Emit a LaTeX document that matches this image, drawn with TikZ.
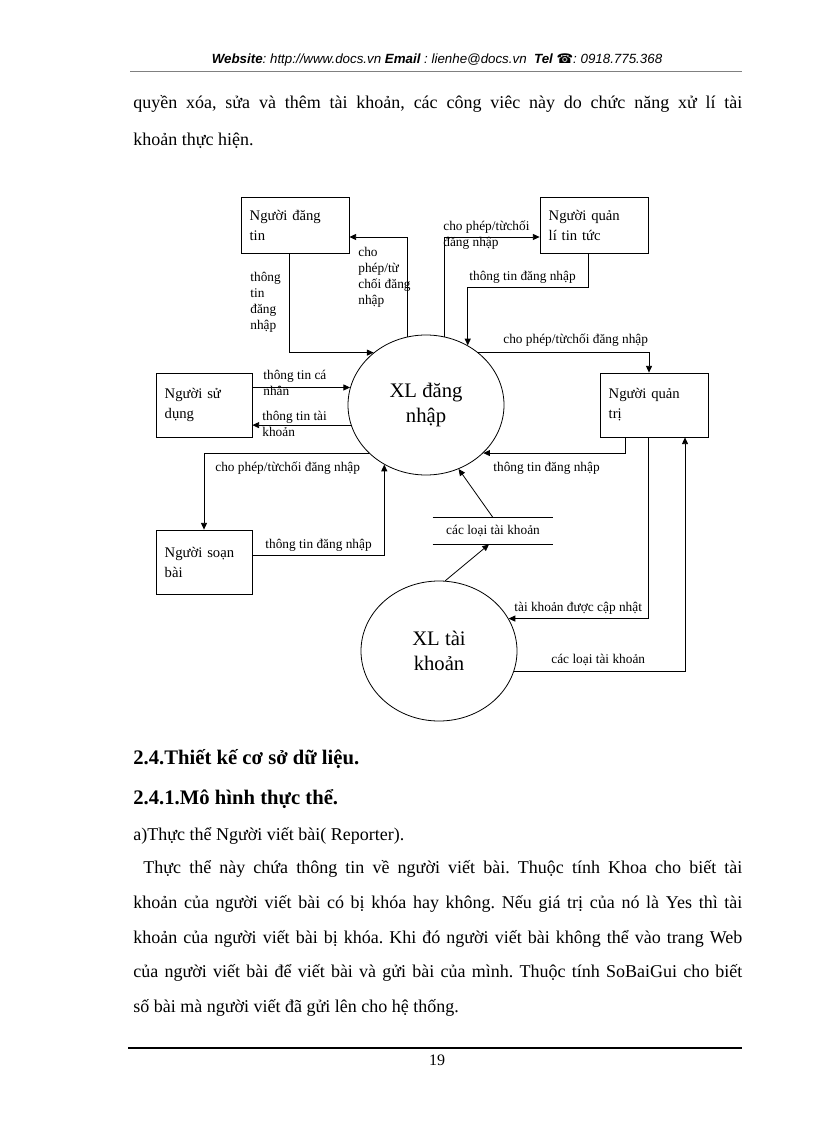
\documentclass[tikz,border=0pt]{standalone}
\usepackage{fontspec}
\setmainfont{Liberation Serif}
\newfontfamily\hdrfont{Liberation Sans}
\newfontfamily\symfont{DejaVu Sans}
\usetikzlibrary{
    arrows.meta,
    calc,
    shapes.geometric
}
\frenchspacing
\newcommand{\fullline}[2]{\makebox[#1][s]{#2}}

\begin{document}
\begin{tikzpicture}[x=0.75pt,y=-0.75pt,line width=0.6pt,
    arr/.style={-{Triangle[length=5pt,width=4.5pt]}},
    box/.style={draw,minimum width=81pt,minimum height=42pt,inner xsep=6.5pt,
        text width=68pt,align=left,font=\fontsize{11}{15}\selectfont},
    sbox/.style={box,minimum width=72pt,minimum height=48pt,text width=59pt},
    proc/.style={draw,ellipse,minimum width=117pt,minimum height=105pt,inner sep=0pt,
        align=center,font=\fontsize{15.5}{19}\selectfont},
    lbl/.style={inner sep=0pt,anchor=west,font=\fontsize{10}{12}\selectfont},
    mlbl/.style={lbl,anchor=north west,align=left},
    body/.style={inner sep=0pt,anchor=base west,font=\fontsize{13.5}{16}\selectfont},
    head/.style={body,font=\fontsize{15.5}{18}\selectfont\bfseries}]
\useasboundingbox (0,0) rectangle (816,1123);

% page header
\node[inner sep=0pt,font=\hdrfont\itshape\fontsize{10}{12}\selectfont] (hdr) at (437,60)
    {\textbf{Website}: http://www.docs.vn \textbf{Email} : lienhe@docs.vn \ \textbf{Tel} {\symfont ☎}: 0918.775.368};
\draw[gray,line width=0.5pt] (130,71) -- (742,71);

\node[body] (p1) at (133,109) {\fullline{456.75pt}{quyền xóa, sửa và thêm tài khoản, các công viêc này do chức năng xử lí tài}};
\node[body] (p2) at (133,146) {khoản thực hiện.};

% diagram
\node[box] (dangtin) at (295,225) {Người đăng\\tin};
\node[box] (quanlitin) at (594,225) {Người quản\\lí tin tức};
\node[proc] (xldn) at (426,405) {XL đăng\\nhập};
\node[sbox] (sudung) at (204,405) {Người sử\\dụng};
\node[box,minimum height=48pt] (quantri) at (654,405) {Người quản\\trị};
\node[sbox] (soanbai) at (204,562) {Người soạn\\bài};
\node[minimum width=90pt,minimum height=19.5pt,inner sep=0pt,font=\fontsize{10}{12}\selectfont] (kho) at (493,531) {các loại tài khoản};
\draw (kho.north west) -- (kho.north east);
\draw (kho.south west) -- (kho.south east);
\node[proc] (xltk) at (439,651) {XL tài\\khoản};

\draw[arr] ($(dangtin.south)+(-6,0)$) |- (xldn.135);
\draw[arr] (xldn.105) |- ($(dangtin.east)+(0,12)$);
\draw[arr] (xldn.75) |- ($(quanlitin.west)+(0,12)$);
\draw[arr] ($(quanlitin.south)+(-6,0)$) -- ++(0,34) -| (xldn.55);
\draw[arr] (xldn.45) -| ($(quantri.north)+(-5,0)$);
\draw[arr] ($(quantri.south)+(-29,0)$) |- (xldn.-40);
\draw[arr] (sudung.east |- xldn.167) -- (xldn.167);
\draw[arr] (xldn.195) -- (sudung.east |- xldn.195);
\draw[arr] (xldn.220) -| (soanbai.north);
\draw[arr] ($(soanbai.east)+(0,-7)$) -| (xldn.235);
\draw[arr] (kho.north) -- (xldn.-63);
\draw[arr] (xltk.85) -- ($(kho.south)+(-4,0)$);
\draw[arr] ($(quantri.south)+(-6,0)$) |- (xltk.25);
\draw[arr] (xltk.-15) -| ($(quantri.south)+(31,0)$);

\node[mlbl] (ldangtin) at (250,272) {thông\\tin\\đăng\\nhập};
\node[mlbl] (lchodangtin) at (358,247) {cho\\phép/từ\\chối đăng\\nhập};
\node[mlbl] (lchoquanli) at (443,220) {cho phép/từchối\\đăng nhập};
\node[lbl] (lquanli) at (469,277) {thông tin đăng nhập};
\node[lbl] (lchoquantri) at (503,340) {cho phép/từchối đăng nhập};
\node[lbl] (lquantri) at (493,468) {thông tin đăng nhập};
\node[mlbl] (lcanhan) at (263,370) {thông tin cá\\nhân};
\node[mlbl] (ltaikhoan) at (262,411) {thông tin tài\\khoản};
\node[lbl] (lchosoan) at (215,468) {cho phép/từchối đăng nhập};
\node[lbl] (lsoan) at (265,545) {thông tin đăng nhập};
\node[lbl] (lcapnhat) at (514,608) {tài khoản được cập nhật};
\node[lbl] (lcacloai) at (551,660) {các loại tài khoản};

% text below
\node[head] (h1) at (133,764) {2.4.Thiết kế cơ sở dữ liệu.};
\node[head] (h2) at (133,804) {2.4.1.Mô hình thực thể.};
\node[body] (pa) at (133,840) {a)Thực thể Người viết bài( Reporter).};
\node[body] (q1) at (143,873) {\fullline{449.25pt}{Thực thể này chứa thông tin về người viết bài. Thuộc tính Khoa cho biết tài}};
\node[body] (q2) at (133,908) {\fullline{456.75pt}{khoản của người viết bài có bị khóa hay không. Nếu giá trị của nó là Yes thì tài}};
\node[body] (q3) at (133,943) {\fullline{456.75pt}{khoản của người viết bài bị khóa. Khi đó người viết bài không thể vào trang Web}};
\node[body] (q4) at (133,977) {\fullline{456.75pt}{của người viết bài để viết bài và gửi bài của mình. Thuộc tính SoBaiGui cho biết}};
\node[body] (q5) at (133,1012) {số bài mà người viết đã gửi lên cho hệ thống.};

\draw[line width=1.5pt] (128,1048) -- (742,1048);
\node[inner sep=0pt,font=\fontsize{12}{14}\selectfont] (pg) at (437,1060) {19};
\end{tikzpicture}
\end{document}
